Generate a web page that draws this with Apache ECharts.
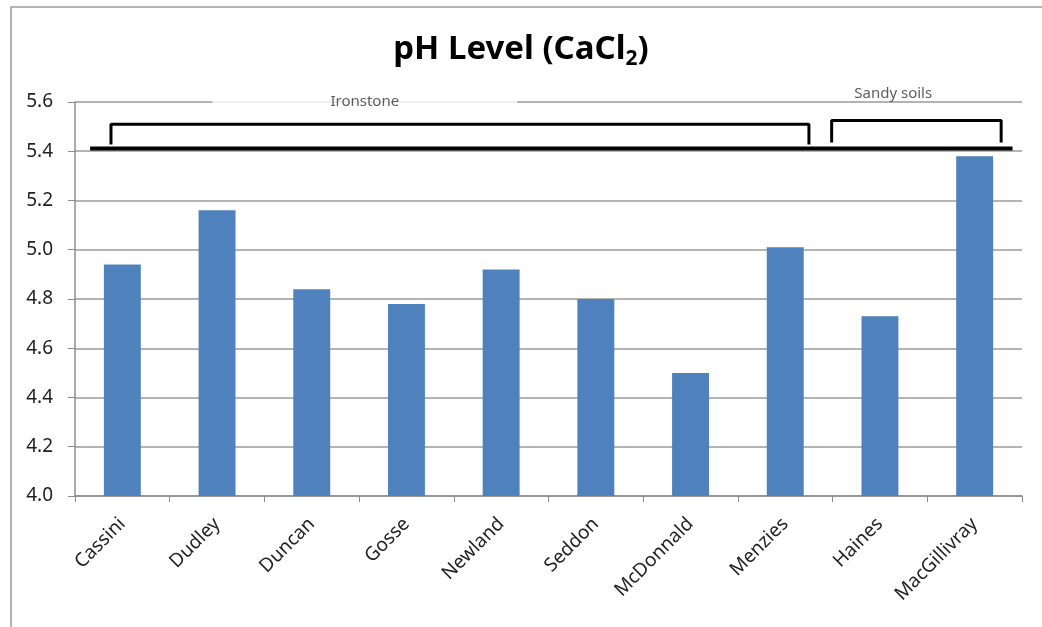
<!DOCTYPE html>
<html>
<head>
<meta charset="utf-8">
<title>pH Level</title>
<script src="https://cdn.jsdelivr.net/npm/echarts@6/dist/echarts.min.js"></script>
<style>
  html, body { margin: 0; padding: 0; background: #fff; }
  #chart { width: 1042px; height: 627px; }
</style>
</head>
<body>
<div id="chart"></div>
<script>
// sites and measured pH
const sites = ['Cassini', 'Dudley', 'Duncan', 'Gosse', 'Newland', 'Seddon', 'McDonnald', 'Menzies', 'Haines', 'MacGillivray'];
const phValues = [4.94, 5.16, 4.84, 4.78, 4.92, 4.80, 4.50, 5.01, 4.73, 5.38];

// y axis range
const yMin = 4.0;
const yMax = 5.6;
const yStep = 0.2;

// soil groups (spans in category index units)
const groupNames = ['Ironstone', 'Sandy soils'];
const groupFrom = [-0.12, 7.49];
const groupTo = [7.25, 9.28];
const groupTop = [5.51, 5.525];
const groupLeg = [5.434, 5.442];
const groupLabelX = [2.56, 8.14];
const baseLineX = [-0.34, 9.40];
const baseLineY = 5.411;

const chart = echarts.init(document.getElementById('chart'));

const font = '"Noto Sans", "Open Sans", sans-serif';

// bracket line series, one per group
const bracketSeries = groupNames.map((g, i) => ({
  type: 'line',
  xAxisIndex: 1,
  showSymbol: false,
  silent: true,
  z: 5,
  lineStyle: { color: '#000', width: 3, cap: 'square' },
  data: [
    [groupFrom[i], groupLeg[i]],
    [groupFrom[i], groupTop[i]],
    [groupTo[i], groupTop[i]],
    [groupTo[i], groupLeg[i]]
  ]
}));

const option = {
  backgroundColor: '#fff',
  animation: false,
  title: {
    text: '{a|pH Level (CaCl}{sub|2}{a|)}',
    left: 'center',
    top: 30,
    padding: 0,
    textStyle: {
      rich: {
        a: { fontFamily: font, fontSize: 33, fontWeight: 'bold', color: '#000', lineHeight: 40 },
        sub: { fontFamily: font, fontSize: 21, fontWeight: 'bold', color: '#000', lineHeight: 13, verticalAlign: 'bottom' }
      }
    }
  },
  graphic: [{
    type: 'rect',
    shape: { x: 11, y: 7, width: 1100, height: 700 },
    style: { fill: 'none', stroke: '#9a9a9a', lineWidth: 1.5 },
    silent: true
  }],
  grid: { left: 75, right: 20, top: 102, bottom: 131 },
  xAxis: [{
    type: 'category',
    data: sites,
    axisLine: { lineStyle: { color: '#8c8c8c', width: 1.5 } },
    axisTick: { show: true, length: 6, lineStyle: { color: '#8c8c8c' } },
    axisLabel: {
      rotate: 45,
      margin: 25,
      fontFamily: font,
      fontSize: 19,
      color: '#222'
    }
  }, {
    type: 'value',
    min: -0.5,
    max: 9.5,
    show: false
  }],
  yAxis: {
    type: 'value',
    min: yMin,
    max: yMax,
    interval: yStep,
    axisLine: { show: true, onZero: false, lineStyle: { color: '#8c8c8c', width: 1.5 } },
    axisTick: { show: true, length: 7, lineStyle: { color: '#8c8c8c' } },
    splitLine: { lineStyle: { color: '#9a9a9a', width: 1.5 } },
    axisLabel: {
      margin: 22,
      fontFamily: font,
      fontSize: 19,
      color: '#222',
      formatter: v => v.toFixed(1)
    }
  },
  series: [
    {
      type: 'bar',
      data: phValues,
      barWidth: '39%',
      itemStyle: { color: '#4f81bd' }
    },
    {
      type: 'line',
      xAxisIndex: 1,
      showSymbol: false,
      silent: true,
      z: 6,
      lineStyle: { color: '#000', width: 4 },
      data: [[baseLineX[0], baseLineY], [baseLineX[1], baseLineY]]
    },
    ...bracketSeries,
    {
      type: 'scatter',
      xAxisIndex: 1,
      symbolSize: 0,
      clip: false,
      silent: true,
      z: 4,
      data: [
        { name: groupNames[0], value: [groupLabelX[0], yMax],
          label: { position: 'inside', backgroundColor: '#fff', padding: [3, 118] } },
        { name: groupNames[1], value: [groupLabelX[1], yMax],
          label: { position: 'top', distance: 1 } }
      ],
      label: {
        show: true,
        formatter: p => p.name,
        fontFamily: font,
        fontSize: 15,
        color: '#333'
      }
    }
  ]
};

chart.setOption(option);
</script>
</body>
</html>
